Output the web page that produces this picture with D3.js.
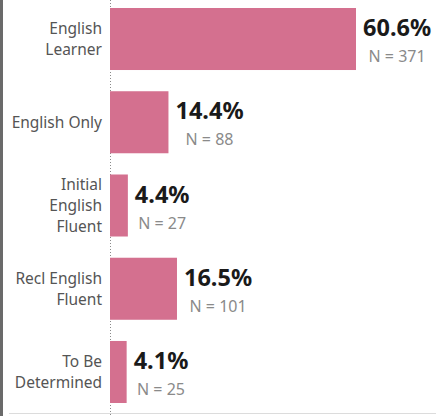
<!DOCTYPE html>
<html>
<head>
<meta charset="utf-8">
<script src="https://cdn.jsdelivr.net/npm/d3@7"></script>
<style>
  html, body { margin: 0; padding: 0; background: #fff; }
  svg { display: block; }
</style>
</head>
<body>
<script>
// Student language classification: share and head count
const categories = [["English", "Learner"], ["English Only"], ["Initial", "English", "Fluent"], ["Recl English", "Fluent"], ["To Be", "Determined"]];
const percents = [60.6, 14.4, 4.4, 16.5, 4.1];
const counts = [371, 88, 27, 101, 25];

const W = 436, H = 416;
const svg = d3.select("body").append("svg").attr("width", W).attr("height", H);

// left frame strip
svg.append("rect").attr("x", 0).attr("y", 0).attr("width", 3).attr("height", H).attr("fill", "#6a6a6a");

const x0 = 110;
const x = d3.scaleLinear().domain([0, 60.6]).range([x0, 356]);
const y = d3.scaleBand().domain(d3.range(categories.length)).range([8, 403]).paddingInner(0.255).paddingOuter(0);

// bottom rule
svg.append("line").attr("x1", 9).attr("x2", W).attr("y1", 413.5).attr("y2", 413.5)
  .attr("stroke", "#dcdcdc").attr("stroke-width", 1);

// dotted zero axis
svg.append("line").attr("x1", x0 + 0.5).attr("x2", x0 + 0.5).attr("y1", 0).attr("y2", 416)
  .attr("stroke", "#8a8a8a").attr("stroke-width", 1).attr("stroke-dasharray", "1,2");

const font = "'Noto Sans', sans-serif";

const rows = svg.selectAll("g.row").data(percents).join("g").attr("class", "row");

rows.append("rect")
  .attr("x", x0)
  .attr("y", (d, i) => y(i))
  .attr("width", d => x(d) - x0)
  .attr("height", y.bandwidth())
  .attr("fill", "#d4708f");

// category labels, right aligned, centred on bar
rows.each(function (d, i) {
  const lines = categories[i];
  const cy = y(i) + y.bandwidth() / 2;
  const lh = 21;
  const t = d3.select(this).append("text")
    .attr("text-anchor", "end")
    .attr("font-family", font)
    .attr("font-size", 15.5)
    .attr("fill", "#555");
  lines.forEach((ln, k) => {
    t.append("tspan").attr("x", 102)
      .attr("y", cy + 5.5 + (k - (lines.length - 1) / 2) * lh)
      .text(ln);
  });
});

// value labels
rows.each(function (d, i) {
  const g = d3.select(this);
  const cy = y(i) + y.bandwidth() / 2;
  const pct = g.append("text")
    .attr("font-family", font)
    .attr("font-weight", "bold")
    .attr("font-size", 23.5)
    .attr("fill", "#1a1a1a")
    .attr("y", cy - 3)
    .text(d.toFixed(1) + "%");
  const w = pct.node().getComputedTextLength();
  const left = x(d) + 7;
  pct.attr("x", left);
  g.append("text")
    .attr("font-family", font)
    .attr("font-size", 16)
    .attr("fill", "#8a8a8a")
    .attr("text-anchor", "middle")
    .attr("x", left + w / 2)
    .attr("y", cy + 23)
    .text("N = " + counts[i]);
});
</script>
</body>
</html>
